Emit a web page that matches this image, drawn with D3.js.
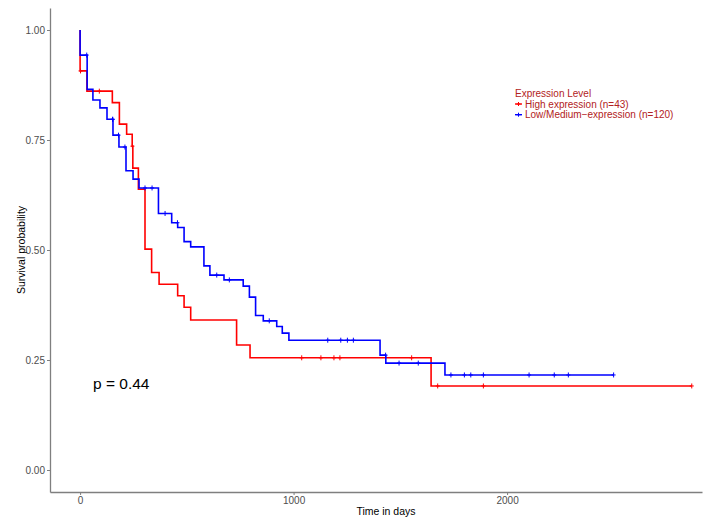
<!DOCTYPE html>
<html>
<head>
<meta charset="utf-8">
<script src="https://cdn.jsdelivr.net/npm/d3@7"></script>
<style>
  body { margin: 0; background: #fff; }
  text { font-family: "Liberation Sans", Arial, sans-serif; }
</style>
</head>
<body>
<div id="container"></div>
<script>
// survival steps (time of drop, survival after it)
var highTimes = [0, 32, 151, 184, 218, 244, 247, 273, 304, 335, 370, 457, 487, 518, 733, 796, 1644];
var highSurv  = [0.907, 0.861, 0.835, 0.786, 0.763, 0.736, 0.686, 0.638, 0.502, 0.449, 0.422, 0.396, 0.370, 0.341, 0.284, 0.255, 0.191];
var highCensor = [2, 90, 245, 1038, 1128, 1189, 1217, 1553, 1675, 1889, 2865];
var highEnd = 2865;

var lowTimes = [0, 33, 60, 93, 126, 154, 182, 215, 248, 276, 367, 429, 457, 487, 518, 580, 608, 674, 764, 793, 822, 858, 921, 947, 978, 1405, 1432, 1709];
var lowSurv  = [0.943, 0.865, 0.841, 0.823, 0.797, 0.761, 0.734, 0.680, 0.661, 0.641, 0.583, 0.562, 0.551, 0.519, 0.507, 0.464, 0.443, 0.432, 0.418, 0.393, 0.351, 0.339, 0.326, 0.311, 0.295, 0.261, 0.243, 0.216];
var lowCensor = [31, 152, 153, 180, 210, 304, 337, 398, 456, 640, 699, 886, 1160, 1221, 1252, 1280, 1431, 1494, 1584, 1737, 1800, 1830, 1889, 2103, 2221, 2287, 2499];
var lowEnd = 2499;

var groupNames = ["High expression (n=43)", "Low/Medium\u2212expression (n=120)"];
var groupColors = ["#ff0000", "#0000ff"];
var xTicks = [0, 1000, 2000];
var yTicks = [0, 0.25, 0.5, 0.75, 1];
var pLabel = "p = 0.44";

var width = 707, height = 520;

var svg = d3.select("#container").append("svg")
    .attr("width", width)
    .attr("height", height);

var x = d3.scaleLinear().domain([-141, 2913]).range([50, 702]);
var y = d3.scaleLinear().domain([-0.05, 1.05]).range([492, 8]);

function makeSteps(times, surv, end) {
    var pts = [[0, 1]];
    times.forEach(function(t, i) { pts.push([t, surv[i]]); });
    pts.push([end, surv[surv.length - 1]]);
    return pts;
}

function survAt(times, surv, t) {
    var i = d3.bisectRight(times, t);
    return i == 0 ? 1 : surv[i - 1];
}

var line = d3.line()
    .curve(d3.curveStepAfter)
    .x(d => x(d[0]))
    .y(d => y(d[1]));

function addCurve(times, surv, cens, end, col) {
    svg.append("path")
        .datum(makeSteps(times, surv, end))
        .attr("fill", "none")
        .attr("stroke", col)
        .attr("stroke-width", 1.6)
        .attr("d", line);

    svg.append("g").selectAll("path")
        .data(cens)
        .join("path")
        .attr("stroke", col)
        .attr("stroke-width", 1)
        .attr("fill", "none")
        .attr("d", function(t) {
            var cx = x(t), cy = y(survAt(times, surv, t));
            return "M" + (cx - 2) + "," + cy + "H" + (cx + 2) +
                   "M" + cx + "," + (cy - 2.5) + "V" + (cy + 2.5);
        });
}

addCurve(highTimes, highSurv, highCensor, highEnd, groupColors[0]);
addCurve(lowTimes, lowSurv, lowCensor, lowEnd, groupColors[1]);

// axes
var xx = svg.append("g")
    .attr("transform", "translate(0,492)")
    .call(d3.axisBottom(x).tickValues(xTicks).tickSize(3).tickSizeOuter(0).tickPadding(2).tickFormat(d3.format("d")));

var yx = svg.append("g")
    .attr("transform", "translate(50,0)")
    .call(d3.axisLeft(y).tickValues(yTicks).tickSize(3).tickSizeOuter(0).tickPadding(2).tickFormat(d3.format(".2f")));

svg.selectAll(".domain").attr("stroke", "#7f7f7f").attr("stroke-width", 1.3);
svg.selectAll(".tick line").attr("stroke", "#7f7f7f");
svg.selectAll(".tick text")
    .attr("fill", "#4d4d4d")
    .style("font-size", "10px")
    .style("font-family", "'Liberation Sans', Arial, sans-serif");

// axis titles
svg.append("text")
    .attr("x", 386)
    .attr("y", 515)
    .attr("text-anchor", "middle")
    .attr("font-size", 10.5)
    .text("Time in days");

svg.append("text")
    .attr("transform", "translate(25,250) rotate(-90)")
    .attr("text-anchor", "middle")
    .attr("font-size", 10.5)
    .text("Survival probability");

// p value
svg.append("text")
    .attr("x", 93)
    .attr("y", 389)
    .attr("font-size", 15.5)
    .text(pLabel);

// legend
var legend = svg.append("g").attr("transform", "translate(515,0)");
legend.append("text")
    .attr("x", 0)
    .attr("y", 97)
    .attr("fill", "#b22222")
    .attr("font-size", 10)
    .text("Expression Level");

groupNames.forEach(function(name, i) {
    var ly = 104 + i * 10.7;
    legend.append("path")
        .attr("stroke", groupColors[i])
        .attr("stroke-width", 1.4)
        .attr("d", "M0," + ly + "H7");
    legend.append("path")
        .attr("stroke", groupColors[i])
        .attr("stroke-width", 1)
        .attr("d", "M1.5," + ly + "H5.5M3.5," + (ly - 2) + "V" + (ly + 2));
    legend.append("text")
        .attr("x", 10)
        .attr("y", ly + 3.5)
        .attr("fill", "#b22222")
        .attr("font-size", 10)
        .text(name);
});
</script>
</body>
</html>
